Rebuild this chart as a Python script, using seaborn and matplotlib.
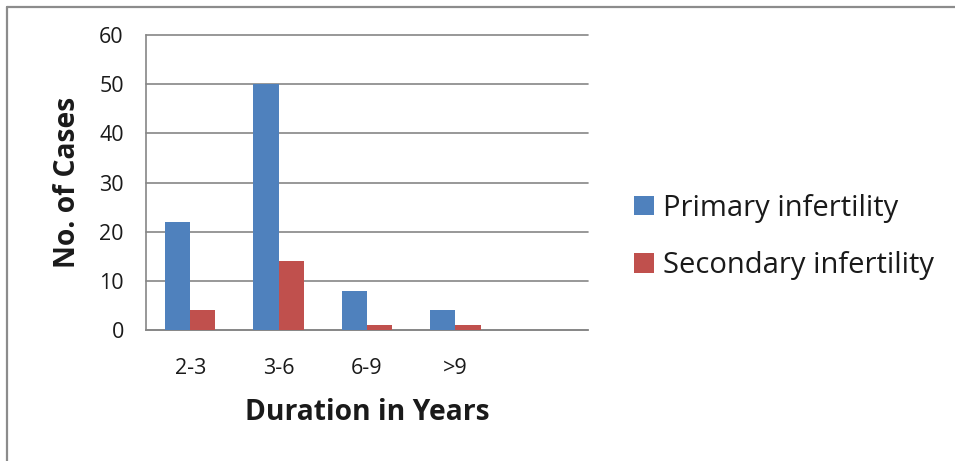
import matplotlib
matplotlib.use("Agg")
import matplotlib.pyplot as plt
import seaborn as sns
import pandas as pd
from matplotlib.lines import Line2D
from matplotlib.patches import Patch

# Number of cases by duration of infertility
durations = ["2-3", "3-6", "6-9", ">9"]
primary = [22, 50, 8, 4]
secondary = [4, 14, 1, 1]
series_names = ["Primary infertility", "Secondary infertility"]
y_ticks = [0, 10, 20, 30, 40, 50, 60]

colors = ["#4F81BD", "#C0504D"]
grid_gray = "#868686"
text_color = "#1a1a1a"

df = pd.DataFrame({
    "Duration": durations * 2,
    "Cases": primary + secondary,
    "Type": [series_names[0]] * len(durations) + [series_names[1]] * len(durations),
})

sns.set_theme(style="white")
plt.rcParams["font.family"] = ["Open Sans", "DejaVu Sans"]

W, H = 955, 461
fig = plt.figure(figsize=(W / 100, H / 100), dpi=100)
fig.patch.set_facecolor("white")

left, right, top, bottom = 146, 588, 35, 330
ax = fig.add_axes([left / W, (H - bottom) / H, (right - left) / W, (bottom - top) / H])

sns.barplot(data=df, x="Duration", y="Cases", hue="Type", order=durations,
            hue_order=series_names, palette=colors, width=2 / 3.5,
            saturation=1, linewidth=0, ax=ax, legend=False, zorder=3)

# one extra empty category slot on the right
ax.set_xlim(-0.5, len(durations) + 0.5)
ax.set_ylim(0, 60)
ax.set_yticks(y_ticks)
ax.yaxis.grid(True, color=grid_gray, linewidth=1.2, zorder=0)
ax.xaxis.grid(False)
for gl in ax.get_ygridlines():
    gl.set_clip_on(False)

ax.set_xticks(range(len(durations)))
ax.set_xticklabels(durations)
ax.set_xticks([i - 0.5 for i in range(len(durations) + 2)], minor=True)
ax.tick_params(axis="x", which="major", length=0, pad=20, labelsize=15.5, labelcolor=text_color)
ax.tick_params(axis="x", which="minor", length=6, width=1.2, color=grid_gray, direction="out")
ax.tick_params(axis="y", which="major", length=8, width=1.2, color=grid_gray, direction="out",
               labelsize=15.5, labelcolor=text_color, pad=8)

for side in ["top", "right"]:
    ax.spines[side].set_visible(False)
for side in ["left", "bottom"]:
    ax.spines[side].set_color(grid_gray)
    ax.spines[side].set_linewidth(1.2)

ax.set_xlabel("Duration in Years", fontsize=20.3, fontweight="bold", labelpad=14, color=text_color)
ax.set_ylabel("No. of Cases", fontsize=20.3, fontweight="bold", labelpad=12, color=text_color)

handles = [Patch(facecolor=c, edgecolor="none") for c in colors]
fig.legend(handles, series_names, loc="center left",
           bbox_to_anchor=(608 / W, 1 - 237 / H), frameon=False,
           fontsize=21, handlelength=0.66, handleheight=0.66,
           handletextpad=0.34, labelspacing=0.97, labelcolor=text_color)

# outer chart frame (top and left edges)
fig.add_artist(Line2D([7 / W, 1], [1 - 7 / H, 1 - 7 / H], transform=fig.transFigure,
                      color="#8c8c8c", linewidth=1.6))
fig.add_artist(Line2D([7 / W, 7 / W], [0, 1 - 7 / H], transform=fig.transFigure,
                      color="#8c8c8c", linewidth=1.6))

fig.savefig("out.png", dpi=100, facecolor="white")
